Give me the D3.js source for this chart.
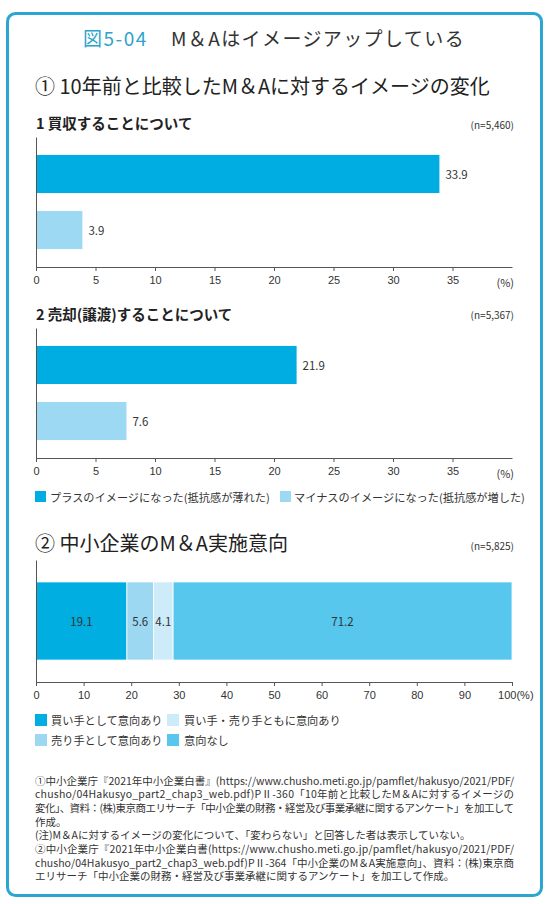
<!DOCTYPE html>
<html><head><meta charset="utf-8">
<script src="https://cdn.jsdelivr.net/npm/d3@7"></script>
<style>
html,body{margin:0;padding:0;background:#fff;}
svg{display:block;font-family:"Noto Sans CJK JP","Noto Sans",sans-serif;}
</style></head>
<body>
<svg id="c" width="550" height="904"></svg>
<script>
// ---- data ----
const imageCategories = ["プラスのイメージになった(抵抗感が薄れた)", "マイナスのイメージになった(抵抗感が増した)"];
const buyValues = [33.9, 3.9];
const sellValues = [21.9, 7.6];
const imageTicks = [0, 5, 10, 15, 20, 25, 30, 35];
const intentCategories = ["買い手として意向あり", "売り手として意向あり", "買い手・売り手ともに意向あり", "意向なし"];
const intentValues = [19.1, 5.6, 4.1, 71.2];
const intentTicks = [0, 10, 20, 30, 40, 50, 60, 70, 80, 90, 100];
const footnotes = [
  "①中小企業庁『2021年中小企業白書』(https://www.chusho.meti.go.jp/pamflet/hakusyo/2021/PDF/",
  "chusho/04Hakusyo_part2_chap3_web.pdf)PⅡ-360「10年前と比較したM＆Aに対するイメージの",
  "変化」、資料：(株)東京商エリサーチ「中小企業の財務・経営及び事業承継に関するアンケート」を加工して",
  "作成。",
  "(注)M＆Aに対するイメージの変化について、「変わらない」と回答した者は表示していない。",
  "②中小企業庁『2021年中小企業白書(https://www.chusho.meti.go.jp/pamflet/hakusyo/2021/PDF/",
  "chusho/04Hakusyo_part2_chap3_web.pdf)PⅡ-364「中小企業のM＆A実施意向」、資料：(株)東京商",
  "エリサーチ「中小企業の財務・経営及び事業承継に関するアンケート」を加工して作成。"
];
const justified = [true, true, true, false, false, true, true, false];

const imageColors = ["#00ade3", "#9dd9f3"];
const intentColors = ["#00aee2", "#9cd8f2", "#cdebf9", "#57c7ee"];
const txt = "#333";

const svg = d3.select("#c");

// frame
svg.append("rect").attr("x", 7.5).attr("y", 13.5).attr("width", 534).attr("height", 882)
  .attr("rx", 8).attr("fill", "#fff").attr("stroke", "#2ba6d0").attr("stroke-width", 3);

// title
const title = svg.append("text").attr("x", 83).attr("y", 37).attr("dominant-baseline", "central")
  .attr("font-size", 19).attr("letter-spacing", 1.5);
title.append("tspan").attr("fill", "#2da4cd").text("図5-04");
title.append("tspan").attr("x", 171).attr("fill", txt).attr("letter-spacing", 1.4).text("M＆Aはイメージアップしている");

svg.append("text").attr("x", 35).attr("y", 85).attr("dominant-baseline", "central")
  .attr("font-size", 20).attr("fill", "#222").text("① 10年前と比較したM＆Aに対するイメージの変化");

function heading(t, y) {
  svg.append("text").attr("x", 36).attr("y", y).attr("dominant-baseline", "central")
    .attr("font-size", 14.5).attr("font-weight", 700).attr("fill", "#222").text(t);
}
function nLabel(t, y) {
  svg.append("text").attr("x", 514).attr("y", y).attr("dominant-baseline", "central")
    .attr("text-anchor", "end").attr("font-size", 10).attr("fill", txt).text(t);
}

const xImg = d3.scaleLinear().domain([0, 40]).range([36, 512]);

function imageChart(values, top, bottom) {
  const y = d3.scaleBand().domain(imageCategories).range([top, bottom]).paddingInner(0.32).paddingOuter(0.32);
  const g = svg.append("g");
  g.selectAll("rect.bar").data(values).join("rect").attr("class", "bar")
    .attr("x", xImg(0)).attr("y", (d, i) => y(imageCategories[i]))
    .attr("width", d => xImg(d) - xImg(0)).attr("height", y.bandwidth())
    .attr("fill", (d, i) => imageColors[i]);
  g.selectAll("text.val").data(values).join("text").attr("class", "val")
    .attr("x", d => xImg(d) + 6).attr("y", (d, i) => y(imageCategories[i]) + y.bandwidth() / 2)
    .attr("dominant-baseline", "central").attr("font-size", 11.5).attr("fill", txt)
    .text(d => d.toFixed(1));
  const ya = g.append("g").attr("transform", `translate(${xImg(0)},0)`)
    .call(d3.axisLeft(y).tickSize(0).tickFormat(""));
  ya.select(".domain").attr("stroke", "#555");
  const xa = g.append("g").attr("transform", `translate(0,${bottom})`)
    .call(d3.axisBottom(xImg).tickValues(imageTicks).tickSize(4).tickPadding(5).tickSizeOuter(0));
  xa.select(".domain").attr("stroke", "#555");
  xa.selectAll(".tick line").attr("stroke", "#555");
  xa.selectAll(".tick text").attr("font-size", 11).attr("fill", txt).attr("font-family", "inherit");
  g.append("text").attr("x", xImg(40) + 2).attr("y", bottom + 15).attr("dominant-baseline", "central")
    .attr("text-anchor", "end").attr("font-size", 11).attr("fill", txt).text("(%)");
}

heading("1 買収することについて", 122);
nLabel("(n=5,460)", 124);
imageChart(buyValues, 137, 267);

heading("2 売却(譲渡)することについて", 313);
nLabel("(n=5,367)", 314);
imageChart(sellValues, 328, 458);

// legend 1
const leg1 = [{x: 35, tx: 50}, {x: 280, tx: 294}];
imageCategories.forEach((c, i) => {
  svg.append("rect").attr("x", leg1[i].x).attr("y", 491).attr("width", 11).attr("height", 11).attr("fill", imageColors[i]);
  svg.append("text").attr("x", leg1[i].tx).attr("y", 497).attr("dominant-baseline", "central")
    .attr("font-size", 11.2).attr("fill", txt).text(c);
});

// section 2
svg.append("text").attr("x", 35).attr("y", 542).attr("dominant-baseline", "central")
  .attr("font-size", 20).attr("fill", "#222").text("② 中小企業のM＆A実施意向");
nLabel("(n=5,825)", 545);

const xInt = d3.scaleLinear().domain([0, 100]).range([36, 512]);
const yInt = d3.scaleBand().domain(["all"]).range([560, 682]).paddingInner(0.36).paddingOuter(0.18);
let cum = 0;
const stacked = intentValues.map(v => { const s = cum; cum += v; return {s, e: cum, v}; });
const g3 = svg.append("g");
g3.selectAll("rect.seg").data(stacked).join("rect").attr("class", "seg")
  .attr("x", d => xInt(d.s)).attr("y", yInt("all"))
  .attr("width", d => xInt(d.e) - xInt(d.s)).attr("height", yInt.bandwidth())
  .attr("fill", (d, i) => intentColors[i]).attr("stroke", "#fff").attr("stroke-width", 0.8);
g3.selectAll("text.val").data(stacked).join("text").attr("class", "val")
  .attr("x", d => xInt((d.s + d.e) / 2)).attr("y", yInt("all") + yInt.bandwidth() / 2)
  .attr("text-anchor", "middle").attr("dominant-baseline", "central")
  .attr("font-size", 11.5).attr("fill", txt).text(d => d.v.toFixed(1));
const ya3 = g3.append("g").attr("transform", `translate(${xInt(0)},0)`)
  .call(d3.axisLeft(yInt).tickSize(0).tickFormat(""));
ya3.select(".domain").attr("stroke", "#555");
const xa3 = g3.append("g").attr("transform", "translate(0,682)")
  .call(d3.axisBottom(xInt).tickValues(intentTicks).tickSize(4).tickPadding(5).tickSizeOuter(0)
    .tickFormat(d => d === 100 ? "100(%)" : d));
xa3.select(".domain").attr("stroke", "#555");
xa3.selectAll(".tick line").attr("stroke", "#555");
xa3.selectAll(".tick text").attr("font-size", 11).attr("fill", txt).attr("font-family", "inherit");
xa3.selectAll(".tick text").filter(d => d === 100).attr("dx", "0.3em");

// legend 3
const leg3 = [
  {i: 0, x: 35, tx: 51, y: 720},
  {i: 2, x: 167, tx: 184, y: 720},
  {i: 1, x: 35, tx: 51, y: 740},
  {i: 3, x: 167, tx: 184, y: 740}
];
leg3.forEach(l => {
  svg.append("rect").attr("x", l.x).attr("y", l.y - 6).attr("width", 12).attr("height", 12).attr("fill", intentColors[l.i]);
  svg.append("text").attr("x", l.tx).attr("y", l.y).attr("dominant-baseline", "central")
    .attr("font-size", 11.2).attr("fill", txt).text(intentCategories[l.i]);
});

// footnotes
footnotes.forEach((t, i) => {
  const el = svg.append("text").attr("x", 35).attr("y", 780 + i * 13.7).attr("dominant-baseline", "central")
    .attr("font-size", 10.5).attr("fill", txt).text(t);
  if (justified[i]) el.attr("textLength", 479).attr("lengthAdjust", "spacing");
});
</script>
</body></html>
